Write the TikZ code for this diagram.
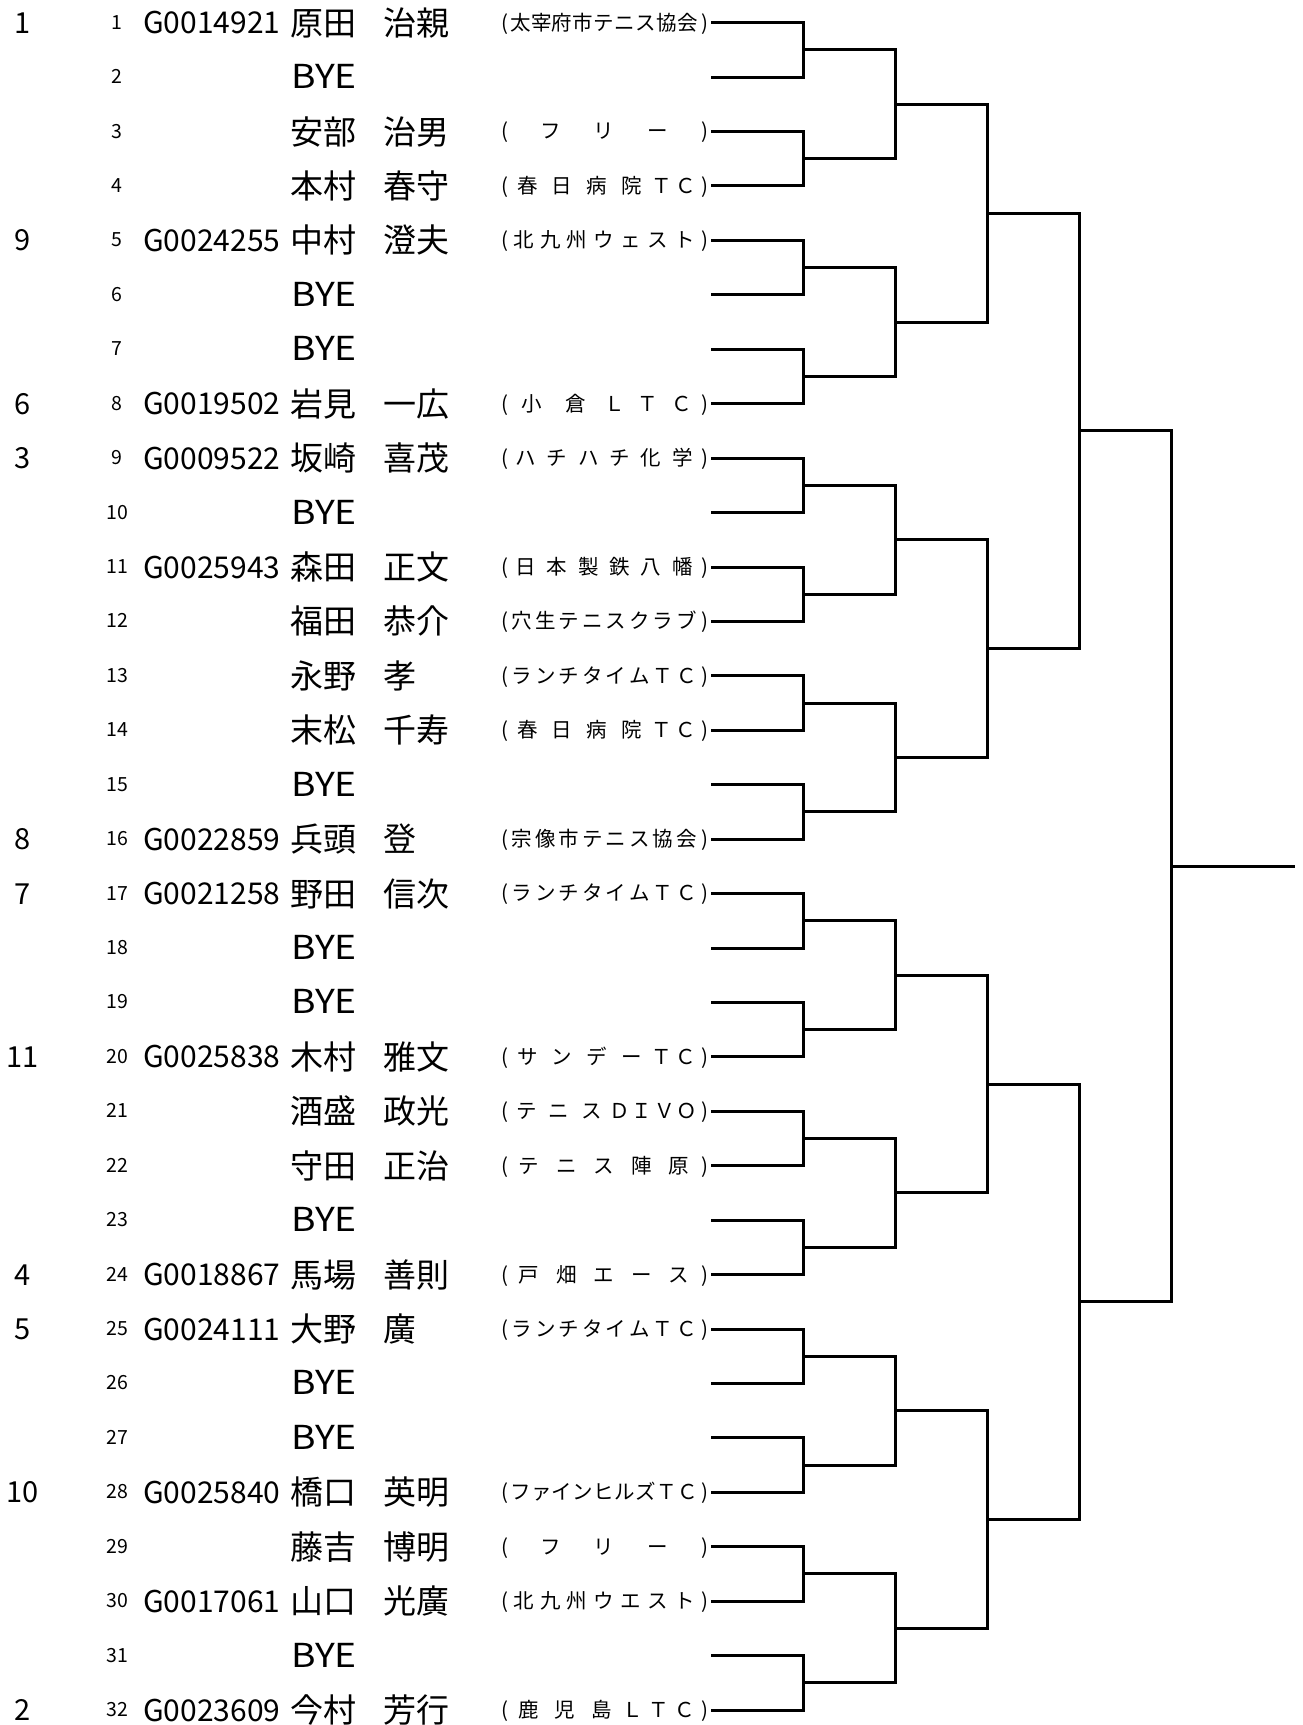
\documentclass[tikz,border=0pt]{standalone}
\usepackage{fontspec}
\setmainfont{Noto Sans CJK JP}
\tikzset{
  brk/.style={line width=3pt, line join=miter},
  clubt/.style={inner sep=0pt, anchor=base, font=\fontsize{20.5}{21}\selectfont},
  rnum/.style={inner sep=0pt, anchor=base, font=\fontsize{19.5}{20}\selectfont},
  seedt/.style={inner sep=0pt, anchor=base, font=\fontsize{29}{30}\selectfont},
  codet/.style={inner sep=0pt, anchor=base west, font=\fontsize{30}{31}\selectfont},
  namet/.style={inner sep=0pt, anchor=base west, font=\fontsize{33}{34}\selectfont},
  byet/.style={inner sep=0pt, anchor=base west, font=\fontsize{33}{34}\selectfont, xscale=1.13, transform shape},
}
\def\blankmark{*}
\newcommand\rowy[1]{22.7+54.43*(#1-1)}
\newcommand\pl[5]{%
  \pgfmathsetmacro\ry{\rowy{#1}}%
  \node[rnum] (rn-#1) at (117,\ry+6.5) {#1};%
  \if\relax\detokenize{#2}\relax\else\node[seedt] (sd-#1) at (23,\ry+10.5) {#2};\fi
  \if\relax\detokenize{#3}\relax\else\node[codet] (gc-#1) at (143,\ry+11) {#3};\fi
  \node[namet] (sn-#1) at (290,\ry+12.5) {#4};%
  \node[namet] (gn-#1) at (383,\ry+12.5) {#5};%
}
\newcommand\bye[1]{%
  \pgfmathsetmacro\ry{\rowy{#1}}%
  \node[rnum] (rn-#1) at (117,\ry+6.5) {#1};%
  \node[byet] (by-#1) at (291,\ry+11.5) {BYE};%
}
\newcommand\club[2]{%
  \pgfmathsetmacro\cy{\rowy{#1}+7.4}%
  \node[clubt] (cl-#1-o) at (505,\cy) {(};%
  \node[clubt] (cl-#1-c) at (705,\cy) {)};%
  \gdef\sumw{0}\gdef\cnt{0}%
  \foreach \c/\w in {#2} {\pgfmathsetmacro\t{\sumw+\w}\xdef\sumw{\t}\pgfmathtruncatemacro\t{\cnt+1}\xdef\cnt{\t}}%
  \pgfmathsetmacro\gp{(188-20.8*\sumw)/\cnt}%
  \gdef\curx{510}%
  \foreach \c/\w [count=\q] in {#2} {%
    \pgfmathsetmacro\cx{\curx+\gp/2+10.4*\w}%
    \ifx\c\blankmark\else\node[clubt] (cl-#1-\q) at (\cx,\cy) {\c};\fi
    \pgfmathsetmacro\t{\curx+\gp+20.8*\w}\xdef\curx{\t}}%
}
\begin{document}
\begin{tikzpicture}[x=1pt,y=-1pt]
\fill[white] (0,0) rectangle (1303,1725);
\useasboundingbox (0,0) rectangle (1303,1725);
% players
\pl{1}{1}{G0014921}{原田}{治親}
\bye{2}
\pl{3}{}{}{安部}{治男}
\pl{4}{}{}{本村}{春守}
\pl{5}{9}{G0024255}{中村}{澄夫}
\bye{6}
\bye{7}
\pl{8}{6}{G0019502}{岩見}{一広}
\pl{9}{3}{G0009522}{坂崎}{喜茂}
\bye{10}
\pl{11}{}{G0025943}{森田}{正文}
\pl{12}{}{}{福田}{恭介}
\pl{13}{}{}{永野}{孝}
\pl{14}{}{}{末松}{千寿}
\bye{15}
\pl{16}{8}{G0022859}{兵頭}{登}
\pl{17}{7}{G0021258}{野田}{信次}
\bye{18}
\bye{19}
\pl{20}{11}{G0025838}{木村}{雅文}
\pl{21}{}{}{酒盛}{政光}
\pl{22}{}{}{守田}{正治}
\bye{23}
\pl{24}{4}{G0018867}{馬場}{善則}
\pl{25}{5}{G0024111}{大野}{廣}
\bye{26}
\bye{27}
\pl{28}{10}{G0025840}{橋口}{英明}
\pl{29}{}{}{藤吉}{博明}
\pl{30}{}{G0017061}{山口}{光廣}
\bye{31}
\pl{32}{2}{G0023609}{今村}{芳行}
% clubs
\club{1}{太/1,宰/1,府/1,市/1,テ/1,ニ/1,ス/1,協/1,会/1}
\club{3}{*/1,フ/1,*/1,リ/1,*/1,ー/1,*/1}
\club{4}{春/1,日/1,病/1,院/1,Ｔ/.5,Ｃ/.5}
\club{5}{北/1,九/1,州/1,ウ/1,ェ/1,ス/1,ト/1}
\club{8}{小/1,倉/1,Ｌ/.5,Ｔ/.5,Ｃ/.5}
\club{9}{ハ/1,チ/1,ハ/1,チ/1,化/1,学/1}
\club{11}{日/1,本/1,製/1,鉄/1,八/1,幡/1}
\club{12}{穴/1,生/1,テ/1,ニ/1,ス/1,ク/1,ラ/1,ブ/1}
\club{13}{ラ/1,ン/1,チ/1,タ/1,イ/1,ム/1,Ｔ/1,Ｃ/1}
\club{14}{春/1,日/1,病/1,院/1,Ｔ/.5,Ｃ/.5}
\club{16}{宗/1,像/1,市/1,テ/1,ニ/1,ス/1,協/1,会/1}
\club{17}{ラ/1,ン/1,チ/1,タ/1,イ/1,ム/1,Ｔ/1,Ｃ/1}
\club{20}{サ/1,ン/1,デ/1,ー/1,Ｔ/.5,Ｃ/.5}
\club{21}{テ/1,ニ/1,ス/1,Ｄ/.5,Ｉ/.5,Ｖ/.5,Ｏ/.5}
\club{22}{テ/1,ニ/1,ス/1,陣/1,原/1}
\club{24}{戸/1,畑/1,エ/1,ー/1,ス/1}
\club{25}{ラ/1,ン/1,チ/1,タ/1,イ/1,ム/1,Ｔ/1,Ｃ/1}
\club{28}{フ/1,ァ/1,イ/1,ン/1,ヒ/1,ル/1,ズ/1,Ｔ/1,Ｃ/1}
\club{29}{*/1,フ/1,*/1,リ/1,*/1,ー/1,*/1}
\club{30}{北/1,九/1,州/1,ウ/1,エ/1,ス/1,ト/1}
\club{32}{鹿/1,児/1,島/1,Ｌ/.5,Ｔ/.5,Ｃ/.5}
% bracket coordinates
\foreach \r in {0,...,5} {
  \pgfmathtruncatemacro\n{32/(2^\r)}
  \pgfmathsetmacro\xa{711+92*\r}
  \pgfmathsetmacro\xb{\r==5 ? 1295 : 711+92*(\r+1)}
  \foreach \k in {1,...,\n} {
    \pgfmathsetmacro\yy{22.7+54.43*((2^\r*(\k-1)+1+2^\r*\k)/2-1)}
    \coordinate (h-\r-\k) at (\xa,\yy);
    \coordinate (j-\r-\k) at (\xb,\yy);
  }
}
\foreach \r in {0,...,4} {
  \pgfmathtruncatemacro\m{16/(2^\r)}
  \foreach \k in {1,...,\m} {
    \pgfmathtruncatemacro\a{2*\k-1}
    \pgfmathtruncatemacro\b{2*\k}
    \draw[brk] (h-\r-\a) -- (j-\r-\a) -- (j-\r-\b) -- (h-\r-\b);
  }
}
\draw[brk] (h-5-1) -- (j-5-1);
\end{tikzpicture}
\end{document}
